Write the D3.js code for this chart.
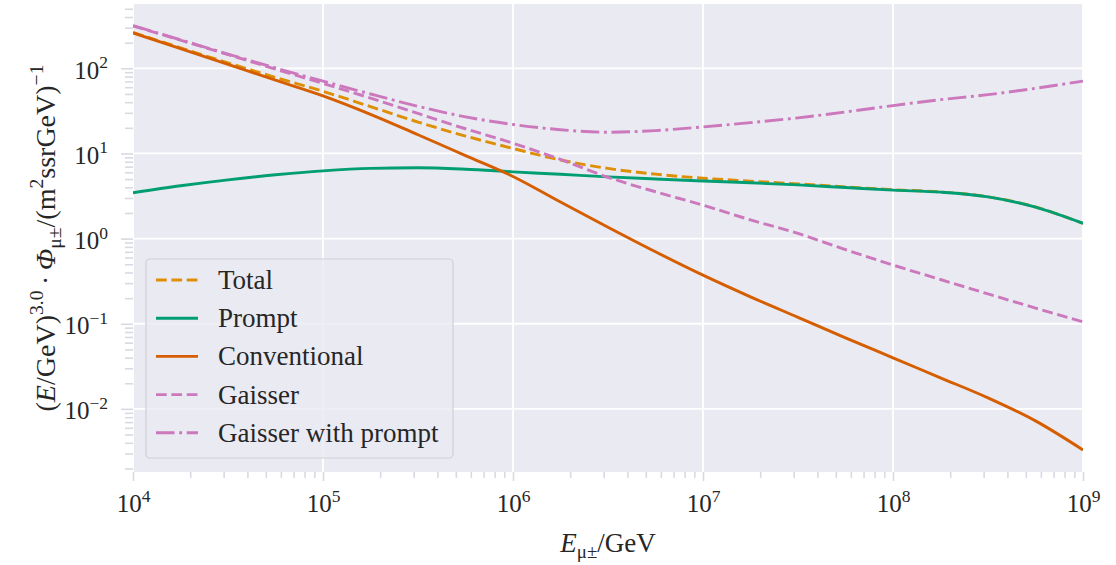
<!DOCTYPE html>
<html><head><meta charset="utf-8">
<script src="https://cdn.jsdelivr.net/npm/d3@7"></script>
<style>body{margin:0;background:#fff}svg{display:block}</style>
</head><body>
<svg id="chart" width="1116" height="565"></svg>
<script>
// ---------- data ----------
const energies = [1e4, 1.778e4, 3.162e4, 5.623e4, 1e5, 1.778e5, 3.162e5, 5.623e5, 1e6, 1.778e6, 3.162e6,
  5.623e6, 1e7, 1.778e7, 3.162e7, 5.623e7, 1e8, 1.778e8, 3.162e8, 5.623e8, 1e9];
const total = [263.5, 174, 115.8, 78.1, 53.7, 35.5, 23.4, 16.0, 11.45, 8.38, 6.67, 5.71, 5.12, 4.73, 4.39, 4.05, 3.75, 3.53, 3.10, 2.35, 1.51];
const prompt = [3.45, 4.17, 4.90, 5.62, 6.25, 6.68, 6.79, 6.53, 6.08, 5.69, 5.31, 5.01, 4.75, 4.52, 4.27, 3.98, 3.71, 3.51, 3.09, 2.34, 1.51];
const conventional = [260, 170, 111, 72.4, 47.4, 28.8, 16.6, 9.44, 5.37, 2.69, 1.36, 0.70, 0.372, 0.207, 0.119, 0.0684, 0.0398, 0.0232, 0.0135, 0.00724, 0.0033];
const gaisser = [315, 214, 145, 97.7, 66.4, 44.7, 29.5, 19.5, 13.2, 8.51, 5.25, 3.55, 2.47, 1.66, 1.15, 0.741, 0.489, 0.331, 0.224, 0.153, 0.105];
const gaisserPrompt = [317, 216, 147, 101, 70.7, 49.9, 35.8, 26.9, 21.9, 19.0, 17.75, 18.55, 20.5, 23.0, 26.2, 30.7, 36.5, 42.8, 49.0, 58.2, 70.8];
const seriesNames = ["Total", "Prompt", "Conventional", "Gaisser", "Gaisser with prompt"];
const xTickExponents = [4, 5, 6, 7, 8, 9];
const yTickExponents = [-2, -1, 0, 1, 2];

// ---------- layout / style ----------
const FONT = "'Liberation Serif', 'DejaVu Serif', serif";
const TXT = "#262626";
const LW = 2.9;
const styles = [
  {color: "#de8f05", dash: [3.7*LW, 1.6*LW]},
  {color: "#029e73", dash: null},
  {color: "#d55e00", dash: null},
  {color: "#cc78bc", dash: [3.7*LW, 1.6*LW]},
  {color: "#cc78bc", dash: [6.4*LW, 1.6*LW, 1*LW, 1.6*LW]}
];
const seriesValues = [total, prompt, conventional, gaisser, gaisserPrompt];

const L = 133, R = 1083, T = 4, B = 472;
const svg = d3.select("#chart").style("font-family", FONT);
const x = d3.scaleLog().domain([1e4, 1e9]).range([L, R]);
const y = d3.scaleLog().domain([0.001816, 569]).range([B, T]);

svg.append("rect").attr("x", L).attr("y", T).attr("width", R - L).attr("height", B - T).attr("fill", "#eaeaf2");

function rich(sel, parts, base) {
  let shift = 0;
  parts.forEach(([t, k]) => {
    const ts = sel.append("tspan").text(t);
    let target = 0, fs = base;
    if (k === "sup") { target = -base * 0.42; fs = base * 0.7; }
    if (k === "sub") { target = base * 0.22; fs = base * 0.7; }
    ts.attr("dy", target - shift).attr("font-size", fs);
    if (k === "i") ts.attr("font-style", "italic");
    shift = target;
  });
}

const xMajor = xTickExponents.map(e => Math.pow(10, e));
const yMajor = yTickExponents.map(e => Math.pow(10, e));
const xMinor = [], yMinor = [];
for (let e = 4; e < 9; e++) for (let m = 2; m <= 9; m++) xMinor.push(m * Math.pow(10, e));
for (let e = -3; e <= 2; e++) for (let m = 2; m <= 9; m++) { const v = m * Math.pow(10, e); if (v >= y.domain()[0] && v <= y.domain()[1]) yMinor.push(v); }

// grid
const grid = svg.append("g");
grid.selectAll(".gx").data(xMajor).join("line").attr("x1", d => x(d)).attr("x2", d => x(d)).attr("y1", T).attr("y2", B)
  .attr("stroke", "#fff").attr("stroke-width", 1.8);
grid.selectAll(".gy").data(yMajor).join("line").attr("y1", d => y(d)).attr("y2", d => y(d)).attr("x1", L).attr("x2", R)
  .attr("stroke", "#fff").attr("stroke-width", 1.8);

// axes (ticks)
const TICKC = "#d9d9e3";
function styleAxis(g) { g.select(".domain").remove(); g.selectAll("line").attr("stroke", TICKC).attr("stroke-width", 1.6); }
svg.append("g").attr("transform", `translate(0,${B})`).call(d3.axisBottom(x).tickValues(xMinor).tickSize(6).tickFormat("")).call(styleAxis);
svg.append("g").attr("transform", `translate(${L},0)`).call(d3.axisLeft(y).tickValues(yMinor).tickSize(8).tickFormat("")).call(styleAxis);
const xAx = svg.append("g").attr("transform", `translate(0,${B})`).call(d3.axisBottom(x).tickValues(xMajor).tickSize(9).tickPadding(0)).call(styleAxis);
const yAx = svg.append("g").attr("transform", `translate(${L},0)`).call(d3.axisLeft(y).tickValues(yMajor).tickSize(12)).call(styleAxis);

const TF = 25;
xAx.selectAll("text").each(function(d) {
  const t = d3.select(this).text("").attr("y", 40).attr("dy", 0).attr("fill", TXT).attr("font-size", TF).attr("font-family", FONT).attr("text-anchor", "middle").attr("dx", 0);
  rich(t, [["10", ""], [String(Math.round(Math.log10(d))), "sup"]], TF);
});
yAx.selectAll("text").each(function(d) {
  const e = Math.round(Math.log10(d));
  const t = d3.select(this).text("").attr("x", -25).attr("dy", 0).attr("y", 10).attr("fill", TXT).attr("font-size", TF).attr("font-family", FONT).attr("text-anchor", "end");
  rich(t, [["10", ""], [(e < 0 ? "\u2212" : "") + Math.abs(e), "sup"]], TF);
});

// lines
svg.append("clipPath").attr("id", "clip").append("rect").attr("x", L).attr("y", T).attr("width", R - L).attr("height", B - T);
const lineGen = d3.line().x(d => x(d[0])).y(d => y(d[1])).curve(d3.curveMonotoneX);
const plot = svg.append("g").attr("clip-path", "url(#clip)");
seriesValues.forEach((vals, i) => {
  plot.append("path").datum(energies.map((e, j) => [e, vals[j]])).attr("d", lineGen)
    .attr("fill", "none").attr("stroke", styles[i].color).attr("stroke-width", LW)
    .attr("stroke-dasharray", styles[i].dash ? styles[i].dash.join(",") : null);
});

// legend
const lg = svg.append("g");
lg.append("rect").attr("x", 146).attr("y", 259).attr("width", 307).attr("height", 199).attr("rx", 4)
  .attr("fill", "#eaeaf2").attr("fill-opacity", 0.8).attr("stroke", "#cfcfd4").attr("stroke-width", 1.2);
seriesNames.forEach((n, i) => {
  const cy = 280 + i * 38.2;
  lg.append("line").attr("x1", 156).attr("x2", 198).attr("y1", cy).attr("y2", cy)
    .attr("stroke", styles[i].color).attr("stroke-width", LW)
    .attr("stroke-dasharray", styles[i].dash ? styles[i].dash.join(",") : null);
  lg.append("text").attr("x", 218).attr("y", cy + 9).attr("fill", TXT).attr("font-size", 27).text(n);
});

// axis labels
const xl = svg.append("text").attr("x", 608).attr("y", 552).attr("text-anchor", "middle").attr("fill", TXT).attr("font-size", 27);
rich(xl, [["E", "i"], ["\u03bc\u00b1", "sub"], ["/GeV", ""]], 27);
const yl = svg.append("text").attr("transform", "translate(55,238) rotate(-90)").attr("text-anchor", "middle").attr("fill", TXT).attr("font-size", 28);
rich(yl, [["(", ""], ["E", "i"], ["/GeV)", ""], ["3.0", "sup"], ["\u2009\u00b7\u2009", ""], ["\u03a6", "i"], ["\u03bc\u00b1", "sub"], ["/(m", ""], ["2", "sup"], ["ssrGeV)", ""], ["\u22121", "sup"]], 28);
</script>
</body></html>
